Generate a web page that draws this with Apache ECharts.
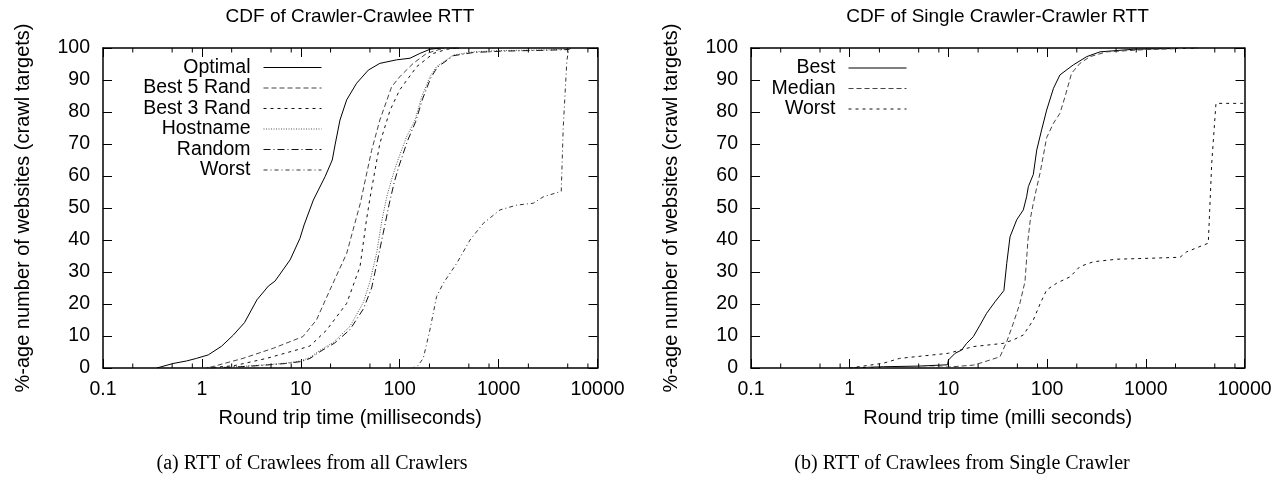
<!DOCTYPE html>
<html><head><meta charset="utf-8">
<script src="https://cdn.jsdelivr.net/npm/echarts@6/dist/echarts.min.js"></script>
<style>html,body{margin:0;padding:0;background:#fff}#c{width:1286px;height:478px}</style>
</head><body><div id="c"></div>
<script>
// ---------- data ----------
const xTickLabels = ['0.1', '1', '10', '100', '1000', '10000'];
const minorTickValues = [0.2, 0.5, 0.8, 2, 5, 8, 20, 50, 80, 200, 500, 800, 2000, 5000, 8000];

const leftTitle = 'CDF of Crawler-Crawlee RTT';
const rightTitle = 'CDF of Single Crawler-Crawler RTT';
const leftCaption = '(a) RTT of Crawlees from all Crawlers';
const rightCaption = '(b) RTT of Crawlees from Single Crawler';
const yName = '%-age number of websites (crawl targets)';
const leftXName = 'Round trip time (milliseconds)';
const rightXName = 'Round trip time (milli seconds)';

const leftNames = ['Optimal', 'Best 5 Rand', 'Best 3 Rand', 'Hostname', 'Random', 'Worst'];
const rightNames = ['Best', 'Median', 'Worst'];

// left plot: [RTT ms, % websites]
const optimal = [[0.35,0],[0.51,1.4],[0.70,2.2],[0.88,3.0],[1.16,4.1],[1.58,6.8],[2.08,10.3],[2.7,14.2],[3.6,21.3],[4.7,25.6],[5.5,27.2],[7.8,33.8],[9.8,40.5],[10.8,44.7],[13.4,52.5],[17.6,59.8],[20.8,65],[22.2,69.7],[24.9,77.5],[29.1,83.8],[36.7,89],[48.2,93.1],[63,95.2],[93,96.3],[127,96.8],[160,98.3],[202,99.6],[260,100],[400,100]];
const best5Rand = [[1.0,0],[1.2,0.2],[2.6,3.0],[5.3,6.2],[10.5,9.8],[14.4,15],[19.7,24.4],[29.1,35.8],[40,51.5],[52,68],[63,77.5],[83,87.9],[100,91],[137,95.2],[187,98.3],[255,99.6],[320,100]];
const best3Rand = [[1.1,0],[2.1,0.7],[4.5,3.0],[10,6.0],[12.4,6.9],[18.3,11.9],[29.1,20.2],[39.7,31.7],[46,46],[50,53],[63,70.2],[80,80.6],[100,86.9],[149,94.2],[219,98.3],[299,99.6],[380,100]];
const hostname = [[1.1,0],[2,0.3],[3.9,0.9],[7,1.5],[10,2.2],[12.4,3.3],[15.6,5.5],[21.3,8],[31.4,13],[42.9,20.5],[50,27],[58.5,36],[66,46],[74,53.5],[83,59],[93.4,64],[117.5,72.3],[143,77.5],[167,84.8],[202,91],[236,94.2],[348,97.8],[555,98.8],[1033,99.2],[3000,99.4],[5000,99.6],[5500,100]];
const random = [[1.2,0],[2.2,0.3],[4,0.8],[7,1.4],[10,2.0],[12.4,3.0],[16,5.3],[22,7.8],[31.4,12],[43,18.5],[52,25],[60,34],[68,42],[78,51],[88,58],[98,63],[120,71],[145,77],[170,84],[205,90.5],[240,94],[350,97.6],[560,98.6],[1050,99.0],[3000,99.3],[5000,99.5],[5500,100]];
const worstLeft = [[130,0],[150,0.4],[173,3],[202,11.9],[236,22.3],[276,26.5],[377,32.7],[514,40],[700,45.2],[1033,49.4],[1524,50.9],[2245,51.5],[2830,53.5],[4300,55.2],[4500,75],[4900,96],[5100,99.5],[5300,100]];

// right plot
const best = [[1,0],[2.2,0.4],[5,0.6],[9.8,1.0],[10,2.5],[11.7,4.6],[13.6,5.6],[15.3,7.7],[17.9,9.8],[20.9,13.4],[24.4,17.1],[29.7,20.7],[36.5,24.2],[39,32.7],[42.1,41],[49.2,46.3],[57.4,49.4],[62,53.5],[64.6,56.7],[72.5,60.5],[78.5,68.1],[88,74.4],[99,80.6],[116,87.4],[135,91.6],[184,94.7],[252,97.3],[344,98.8],[748,99.6],[3400,100]];
const median = [[1,0],[5,0.2],[10,0.3],[17.9,0.9],[20.9,1.5],[33.3,3.5],[39,8.2],[45.5,14],[53,20.2],[59.7,27],[64,40],[68,47],[72,51],[78,56],[85,61],[99,72],[116,76.5],[135,79.6],[152,84.8],[177,92.1],[215,95.2],[272,97.3],[402,98.8],[1000,99.5],[3400,100]];
const worstRight = [[1,0],[2.2,1.5],[3.2,3.0],[10,4.6],[17.9,6.7],[36,7.7],[45.5,8.8],[57.4,10.3],[72.5,15],[84.8,20],[99,24.4],[125,26.5],[171,28.5],[215,31.7],[294,33.2],[507,34],[1104,34.3],[2223,34.6],[2594,36.3],[4295,39],[4656,64],[5140,82.7],[10000,82.7]];

// ---------- styles ----------
const SANS = "'Liberation Sans', Arial, Helvetica, sans-serif";
const SERIF = "'Liberation Serif', 'Times New Roman', serif";
const leftData = [optimal, best5Rand, best3Rand, hostname, random, worstLeft];
const leftStyles = [
  {color: '#000', type: 'solid'},
  {color: '#444', type: [5, 3]},
  {color: '#111', type: [3, 4]},
  {color: '#555', type: [1, 1.5]},
  {color: '#111', type: [7, 3, 1, 3]},
  {color: '#333', type: [4, 3, 1, 3]}
];
const rightData = [best, median, worstRight];
const rightStyles = [
  {color: '#000', type: 'solid'},
  {color: '#444', type: [5, 3]},
  {color: '#111', type: [3, 4]}
];

const grids = [
  {left: 103, top: 48, width: 494.5, height: 320, outerBoundsMode: 'none'},
  {left: 751, top: 48, width: 493.5, height: 320, outerBoundsMode: 'none'}
];

function xLabel(v) {
  const i = Math.round(Math.log10(v)) + 1;
  return xTickLabels[i] !== undefined ? xTickLabels[i] : '';
}

const frameLine = {show: true, onZero: false, lineStyle: {color: '#000', width: 1.5}};
const majorTick = {show: true, inside: true, length: 9, lineStyle: {color: '#000', width: 1}};

const xAxes = [], yAxes = [];
[leftXName, rightXName].forEach((nm, g) => {
  xAxes.push({
    type: 'log', logBase: 10, min: 0.1, max: 10000, gridIndex: g, position: 'bottom',
    axisLine: frameLine, axisTick: majorTick, splitLine: {show: false},
    axisLabel: {formatter: xLabel, fontSize: 19.5, color: '#000', margin: 12, fontFamily: SANS},
    name: nm, nameLocation: 'middle', nameGap: 40,
    nameTextStyle: {fontSize: 20, color: '#000', fontFamily: SANS}
  });
  xAxes.push({
    type: 'log', logBase: 10, min: 0.1, max: 10000, gridIndex: g, position: 'top',
    axisLine: frameLine, axisTick: majorTick, splitLine: {show: false}, axisLabel: {show: false}
  });
  yAxes.push({
    type: 'value', min: 0, max: 100, interval: 10, gridIndex: g, position: 'left',
    axisLine: frameLine, axisTick: majorTick, splitLine: {show: false},
    axisLabel: {fontSize: 19.5, color: '#000', margin: 13, fontFamily: SANS},
    name: yName, nameLocation: 'middle', nameGap: 70,
    nameTextStyle: {fontSize: 20, color: '#000', fontFamily: SANS}
  });
  yAxes.push({
    type: 'value', min: 0, max: 100, interval: 10, gridIndex: g, position: 'right',
    axisLine: frameLine, axisTick: majorTick, splitLine: {show: false}, axisLabel: {show: false}
  });
});

function minorTicks(g) {
  return {
    type: 'custom', xAxisIndex: g * 2, yAxisIndex: g * 2, silent: true, clip: false,
    data: minorTickValues.map(v => [v, 0]), encode: {x: 0, y: 1},
    renderItem(params, api) {
      const v = api.value(0);
      const b = api.coord([v, 0]);
      const t = api.coord([v, 100]);
      return {type: 'group', children: [
        {type: 'line', shape: {x1: b[0], y1: b[1], x2: b[0], y2: b[1] - 4.5}, style: {stroke: '#000', lineWidth: 1}},
        {type: 'line', shape: {x1: t[0], y1: t[1], x2: t[0], y2: t[1] + 4.5}, style: {stroke: '#000', lineWidth: 1}}
      ]};
    }
  };
}

const series = [];
leftNames.forEach((nm, i) => series.push({
  name: nm, type: 'line', xAxisIndex: 0, yAxisIndex: 0, data: leftData[i],
  symbol: 'none', showSymbol: false, smooth: false,
  lineStyle: {color: leftStyles[i].color, width: 1, type: leftStyles[i].type},
  itemStyle: {color: leftStyles[i].color}
}));
rightNames.forEach((nm, i) => series.push({
  name: nm + ' ', type: 'line', xAxisIndex: 2, yAxisIndex: 2, data: rightData[i],
  symbol: 'none', showSymbol: false, smooth: false,
  lineStyle: {color: rightStyles[i].color, width: 1, type: rightStyles[i].type},
  itemStyle: {color: rightStyles[i].color}
}));
series.push(minorTicks(0), minorTicks(1));

const legendBase = {
  orient: 'vertical', align: 'right', itemWidth: 58, itemHeight: 20, itemGap: 0.5,
  padding: 0, selectedMode: false,
  itemStyle: {color: 'transparent', borderWidth: 0, opacity: 0},
  lineStyle: {width: 1},
  textStyle: {fontSize: 19.5, color: '#000', fontFamily: SANS, lineHeight: 20, padding: [0, 8, 0, 0]}
};

const option = {
  animation: false,
  backgroundColor: '#fff',
  title: [
    {text: leftTitle, left: 350, top: 7, textAlign: 'center', padding: 0,
     textStyle: {fontSize: 19, fontWeight: 'normal', color: '#000', fontFamily: SANS}},
    {text: rightTitle, left: 997.5, top: 7, textAlign: 'center', padding: 0,
     textStyle: {fontSize: 19, fontWeight: 'normal', color: '#000', fontFamily: SANS}},
    {text: leftCaption, left: 312, top: 454, textAlign: 'center', padding: 0,
     textStyle: {fontSize: 20, fontWeight: 'normal', color: '#000', fontFamily: SERIF}},
    {text: rightCaption, left: 962, top: 454, textAlign: 'center', padding: 0,
     textStyle: {fontSize: 20, fontWeight: 'normal', color: '#000', fontFamily: SERIF}}
  ],
  legend: [
    Object.assign({}, legendBase, {data: leftNames, right: 1286 - 322, top: 57.5}),
    Object.assign({}, legendBase, {data: rightNames.map(n => n + ' '), right: 1286 - 907, top: 58,
      formatter: n => n.trim()})
  ],
  grid: grids,
  xAxis: xAxes,
  yAxis: yAxes,
  series: series
};

const chart = echarts.init(document.getElementById('c'), null, {renderer: 'canvas'});
chart.setOption(option);
</script>
</body></html>
